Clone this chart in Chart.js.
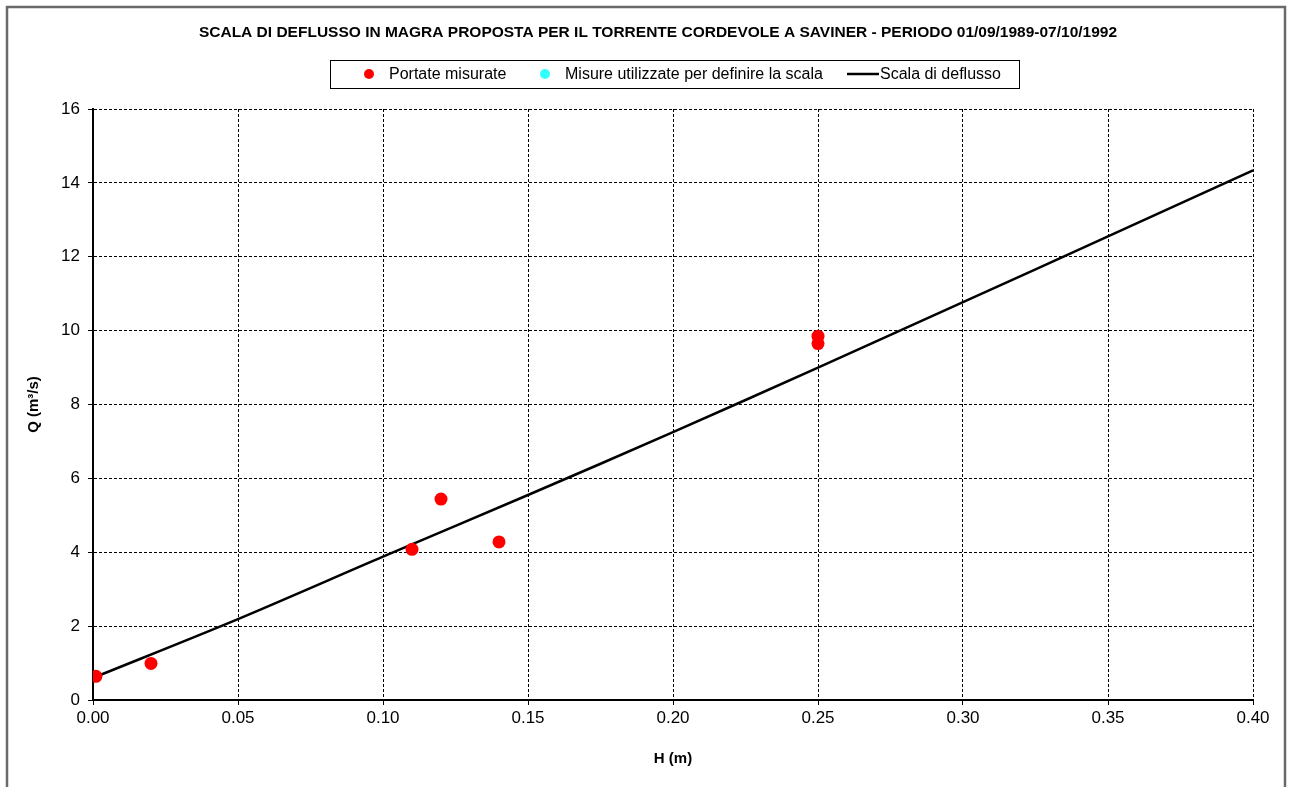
<!DOCTYPE html>
<html>
<head>
<meta charset="utf-8">
<script src="https://cdn.jsdelivr.net/npm/chart.js@4.4.1/dist/chart.umd.min.js"></script>
<style>
  html, body { margin: 0; padding: 0; background: #ffffff; }
  #wrap { width: 1291px; height: 787px; }
</style>
</head>
<body>
<div id="wrap"><canvas id="c" width="1291" height="787"></canvas></div>
<script>
// Measured discharges: stage H (m) and flow Q (m³/s)
const measuredH = [0.001, 0.02, 0.11, 0.12, 0.14, 0.25, 0.25];
const measuredQ = [0.64, 0.99, 4.08, 5.44, 4.28, 9.85, 9.65];

// Gaugings used to fit the rating curve (none in this period)
const usedH = [];
const usedQ = [];

// Proposed low-flow rating curve
const curveH = [0.001, 0.05, 0.10, 0.15, 0.20, 0.25, 0.30, 0.35, 0.40];
const curveQ = [0.63, 2.19, 3.88, 5.55, 7.25, 9.00, 10.77, 12.55, 14.34];

const chartTitle = 'SCALA DI DEFLUSSO IN MAGRA PROPOSTA PER IL TORRENTE CORDEVOLE A SAVINER - PERIODO 01/09/1989-07/10/1992';
const seriesLabels = ['Portate misurate', 'Misure utilizzate per definire la scala', 'Scala di deflusso'];
const xTitle = 'H (m)';
const yTitle = 'Q (m³/s)';

const toXY = (xs, ys) => xs.map((x, i) => ({ x: x, y: ys[i] }));

// Frame, heading and boxed legend
const decorations = {
  id: 'decorations',
  beforeDraw(chart) {
    const ctx = chart.ctx;
    ctx.save();
    ctx.fillStyle = '#ffffff';
    ctx.fillRect(0, 0, chart.width, chart.height);
    ctx.strokeStyle = '#6a6a6a';
    ctx.lineWidth = 2.5;
    ctx.strokeRect(7, 7, 1278, 800);
    ctx.restore();
  },
  afterDraw(chart) {
    const ctx = chart.ctx;
    ctx.save();
    ctx.fillStyle = '#000000';
    ctx.textBaseline = 'middle';
    ctx.textAlign = 'center';
    ctx.font = 'bold 15.5px "Liberation Sans", Arial, sans-serif';
    ctx.fillText(chartTitle, 658, 33);

    // legend box
    ctx.strokeStyle = '#000000';
    ctx.lineWidth = 1;
    ctx.strokeRect(330.5, 60.5, 689, 28);

    const ds = chart.data.datasets;
    const ly = 75;
    ctx.textAlign = 'left';
    ctx.font = '16px "Liberation Sans", Arial, sans-serif';

    ctx.fillStyle = ds[0].backgroundColor;
    ctx.beginPath(); ctx.arc(369, ly - 1, 5, 0, Math.PI * 2); ctx.fill();
    ctx.fillStyle = '#000000';
    ctx.fillText(ds[0].label, 389, ly);

    ctx.fillStyle = ds[1].backgroundColor;
    ctx.beginPath(); ctx.arc(545, ly - 1, 5, 0, Math.PI * 2); ctx.fill();
    ctx.fillStyle = '#000000';
    ctx.fillText(ds[1].label, 565, ly);

    ctx.strokeStyle = ds[2].borderColor;
    ctx.lineWidth = 2.5;
    ctx.beginPath(); ctx.moveTo(847, ly - 1); ctx.lineTo(879, ly - 1); ctx.stroke();
    ctx.fillStyle = '#000000';
    ctx.fillText(ds[2].label, 880, ly);
    ctx.restore();
  }
};

const tickFont = { family: '"Liberation Sans", Arial, sans-serif', size: 17 };
const titleFont = { family: '"Liberation Sans", Arial, sans-serif', size: 15, weight: 'bold' };

new Chart(document.getElementById('c'), {
  type: 'scatter',
  data: {
    datasets: [
      {
        label: seriesLabels[0],
        data: toXY(measuredH, measuredQ),
        backgroundColor: '#ff0000',
        borderColor: '#ff0000',
        borderWidth: 0,
        pointRadius: 6.5,
        order: 1
      },
      {
        label: seriesLabels[1],
        data: toXY(usedH, usedQ),
        backgroundColor: '#33ffff',
        borderColor: '#33ffff',
        borderWidth: 0,
        pointRadius: 6.5,
        order: 0
      },
      {
        type: 'line',
        label: seriesLabels[2],
        data: toXY(curveH, curveQ),
        borderColor: '#000000',
        backgroundColor: '#000000',
        borderWidth: 2.5,
        pointRadius: 0,
        tension: 0.3,
        fill: false,
        order: 2
      }
    ]
  },
  options: {
    responsive: false,
    animation: false,
    events: [],
    layout: { padding: { top: 109, left: 20, right: 38, bottom: 10 } },
    plugins: {
      legend: { display: false },
      title: { display: false },
      tooltip: { enabled: false }
    },
    scales: {
      x: {
        type: 'linear',
        min: 0,
        max: 0.4,
        ticks: {
          stepSize: 0.05,
          color: '#000000',
          font: tickFont,
          padding: 3,
          maxRotation: 0,
          callback: (v) => Number(v).toFixed(2)
        },
        grid: { color: '#000000', lineWidth: 1, tickLength: 5, tickBorderDash: [] },
        border: { display: true, color: '#000000', width: 2, dash: [3, 2] },
        title: { display: true, text: xTitle, color: '#000000', font: titleFont, padding: { top: 0, bottom: 9 } },
        afterFit(scale) { scale.height = 77; }
      },
      y: {
        type: 'linear',
        min: 0,
        max: 16,
        ticks: {
          stepSize: 2,
          color: '#000000',
          font: tickFont,
          padding: 8
        },
        grid: { color: '#000000', lineWidth: 1, tickLength: 5, tickBorderDash: [] },
        border: { display: true, color: '#000000', width: 2, dash: [3, 2] },
        title: { display: true, text: yTitle, color: '#000000', font: titleFont, padding: { top: 5, bottom: 0 } },
        afterFit(scale) { scale.width = 73; }
      }
    }
  },
  plugins: [decorations]
});
</script>
</body>
</html>
